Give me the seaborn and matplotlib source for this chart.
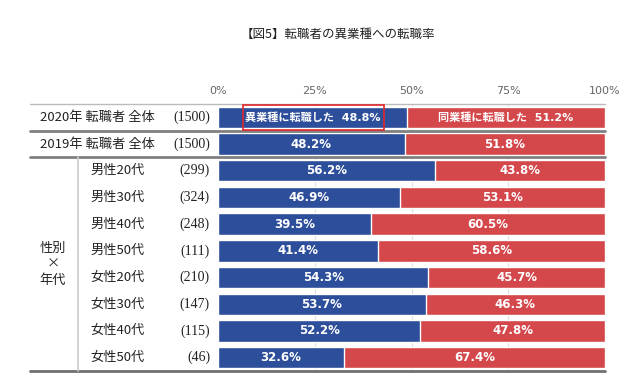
import matplotlib

matplotlib.use("Agg")

import matplotlib.pyplot as plt
import matplotlib.transforms as mtransforms
import pandas as pd
import seaborn as sns
from matplotlib.patches import Rectangle

sns.set_theme(style="white")
plt.rcParams["font.family"] = ["Noto Sans CJK JP", "DejaVu Sans"]

BLUE = "#2D4E9A"
RED = "#D4474B"

labels = [
    "2020年 転職者 全体",
    "2019年 転職者 全体",
    "男性20代", "男性30代", "男性40代", "男性50代",
    "女性20代", "女性30代", "女性40代", "女性50代",
]
counts = ["(1500)", "(1500)", "(299)", "(324)", "(248)", "(111)",
          "(210)", "(147)", "(115)", "(46)"]
other_industry = [48.8, 48.2, 56.2, 46.9, 39.5, 41.4, 54.3, 53.7, 52.2, 32.6]
same_industry = [51.2, 51.8, 43.8, 53.1, 60.5, 58.6, 45.7, 46.3, 47.8, 67.4]
group_label = "性別\n×\n年代"
title = "【図5】転職者の異業種への転職率"

df = pd.DataFrame({"label": labels, "other": other_industry, "same": same_industry})
df["total"] = df["other"] + df["same"]

fig = plt.figure(figsize=(6.41, 3.84), dpi=100)
ax = fig.add_axes([218 / 641, 1 - 371 / 384, 387 / 641, 267 / 384])

for x in [25, 50, 75, 100]:
    ax.axvline(x, color="#dddddd", lw=0.8, zorder=0)

sns.barplot(data=df, y="label", x="total", order=labels, color=RED,
            orient="h", width=0.8, saturation=1, ax=ax, zorder=2)
sns.barplot(data=df, y="label", x="other", order=labels, color=BLUE,
            orient="h", width=0.8, saturation=1, ax=ax, zorder=3)

ax.set_xlim(0, 100)
ax.set_ylim(9.5, -0.5)
ax.set_xticks([0, 25, 50, 75, 100])
ax.set_xticklabels(["0%", "25%", "50%", "75%", "100%"], family=["DejaVu Sans"])
ax.xaxis.tick_top()
ax.tick_params(axis="x", length=0, pad=6, labelsize=8, labelcolor="#666666")
ax.set_yticks([])
ax.set_xlabel("")
ax.set_ylabel("")
for s in ax.spines.values():
    s.set_visible(False)

# value labels
val_font = ["DejaVu Sans", "Noto Sans CJK JP"]
for i, (o, s) in enumerate(zip(other_industry, same_industry)):
    if i == 0:
        t_o = f"異業種に転職した  {o:.1f}%"
        t_s = f"同業種に転職した  {s:.1f}%"
        fs = 8
    else:
        t_o = f"{o:.1f}%"
        t_s = f"{s:.1f}%"
        fs = 8.5
    ax.text(o / 2, i, t_o, ha="center", va="center", color="white",
            fontsize=fs, fontweight="bold", family=val_font, zorder=5)
    ax.text(o + s / 2, i, t_s, ha="center", va="center", color="white",
            fontsize=fs, fontweight="bold", family=val_font, zorder=5)

ax.add_patch(Rectangle((6.4, -0.47), 36.4, 0.95, fill=False,
                       edgecolor="#E0262B", lw=1.2, zorder=6, clip_on=False))

# row labels on the left
trans = mtransforms.blended_transform_factory(fig.transFigure, ax.transData)
for i, (lab, n) in enumerate(zip(labels, counts)):
    x0 = 40 / 641 if i < 2 else 90 / 641
    ax.text(x0, i, lab, transform=trans, ha="left", va="center",
            fontsize=9.5, color="#222222")
    ax.text(210 / 641, i, n, transform=trans, ha="right", va="center",
            fontsize=10, color="#222222", family=["Liberation Serif", "DejaVu Serif"])
ax.text(53 / 641, 5.5, group_label, transform=trans, ha="center", va="center",
        fontsize=9.5, color="#222222", linespacing=1.3)

# separators
def hline(y, color, lw):
    ax.plot([30 / 641, 605 / 641], [y, y], transform=trans, color=color,
            lw=lw, clip_on=False, zorder=4)

hline(-0.5, "#bbbbbb", 1.0)
hline(0.5, "#808080", 2.0)
hline(1.5, "#808080", 2.0)
hline(9.5, "#707070", 2.0)
ax.plot([78 / 641, 78 / 641], [1.5, 9.5], transform=trans, color="#cccccc",
        lw=1.2, clip_on=False, zorder=4)

fig.text(338 / 641, 1 - 34 / 384, title, ha="center", va="center",
         fontsize=9, color="#222222")

fig.savefig("out.png", dpi=100)
